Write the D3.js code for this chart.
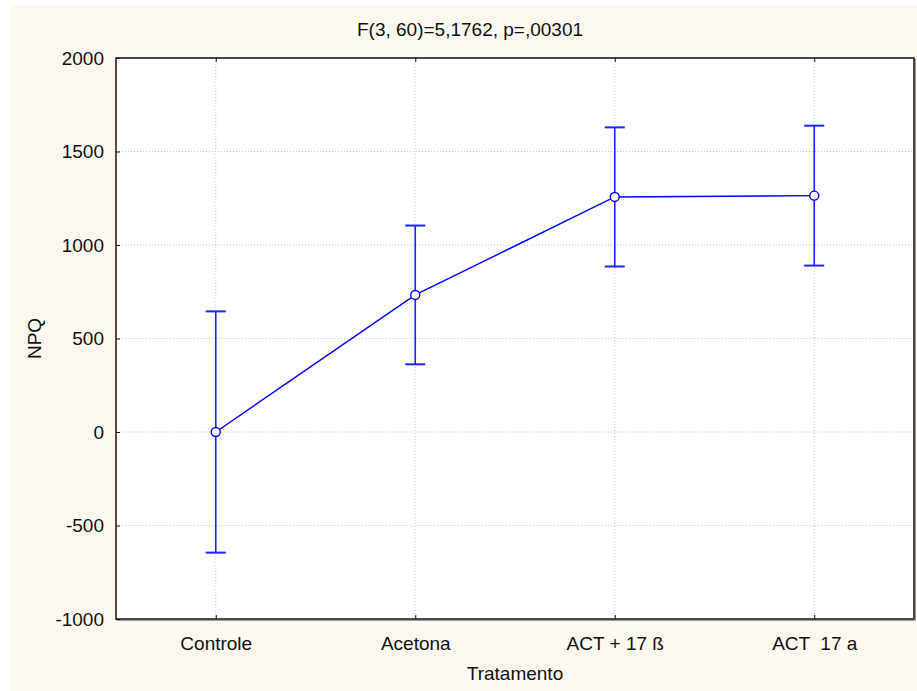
<!DOCTYPE html>
<html>
<head>
<meta charset="utf-8">
<script src="https://cdn.jsdelivr.net/npm/d3@7"></script>
<style>
  body { margin: 0; background: #fff; }
  svg text { font-family: "Liberation Sans", Arial, sans-serif; fill: #111; white-space: pre; }
</style>
</head>
<body>
<svg id="chart"></svg>
<script>
// Data
const categories = ["Controle", "Acetona", "ACT + 17 ß", "ACT  17 a"];
const means = [0, 733, 1257, 1264];
const upper = [645, 1104, 1629, 1638];
const lower = [-645, 362, 885, 890];
const yTicks = [-1000, -500, 0, 500, 1000, 1500, 2000];

const W = 917, H = 691;
const margin = { top: 58, right: 3, bottom: 72, left: 116 };
const width = W - margin.left - margin.right;
const height = H - margin.top - margin.bottom;

const svg = d3.select("#chart").attr("width", W).attr("height", H);

// cream page background
svg.append("rect")
  .attr("x", 10).attr("y", 5)
  .attr("width", W - 10).attr("height", H - 5)
  .attr("fill", "#fdf9f0");

const g = svg.append("g").attr("transform", `translate(${margin.left},${margin.top})`);

g.append("rect")
  .attr("width", width).attr("height", height)
  .attr("fill", "#fff");

const x = d3.scalePoint().domain(categories).range([0, width]).padding(0.5);
const y = d3.scaleLinear().domain([-1000, 2000]).range([height, 0]);

// dotted grid
g.selectAll(".hgrid")
  .data(yTicks.slice(1, -1))
  .enter().append("line")
  .attr("x1", 0).attr("x2", width)
  .attr("y1", d => y(d)).attr("y2", d => y(d))
  .attr("stroke", "#c8c8c8").attr("stroke-width", 1)
  .attr("stroke-dasharray", "1,2");

g.selectAll(".vgrid")
  .data(categories)
  .enter().append("line")
  .attr("x1", d => x(d)).attr("x2", d => x(d))
  .attr("y1", 0).attr("y2", height)
  .attr("stroke", "#c8c8c8").attr("stroke-width", 1)
  .attr("stroke-dasharray", "1,2");

// axes with inward ticks
const yAxis = g.append("g")
  .call(d3.axisLeft(y).tickValues(yTicks).tickSize(-4).tickPadding(12).tickFormat(d => String(d)));
const xAxisB = g.append("g")
  .attr("transform", `translate(0,${height})`)
  .call(d3.axisBottom(x).tickSize(-4).tickPadding(18));
const xAxisT = g.append("g")
  .call(d3.axisTop(x).tickSize(-4).tickFormat(""));

[yAxis, xAxisB, xAxisT].forEach(a => {
  a.select(".domain").remove();
  a.selectAll(".tick line").attr("stroke", "#111").attr("stroke-width", 1);
  a.selectAll("text")
    .style("font-family", "'Liberation Sans', Arial, sans-serif")
    .style("font-size", "19px")
    .style("white-space", "pre")
    .attr("fill", "#111");
});

// frame with a faint shadow on the right/bottom
g.append("path")
  .attr("d", `M${width + 1.5},1 V${height + 1.5} H1`)
  .attr("fill", "none").attr("stroke", "#999").attr("stroke-width", 1);
g.append("rect")
  .attr("width", width).attr("height", height)
  .attr("fill", "none").attr("stroke", "#111").attr("stroke-width", 1.5);

// error bars
const capW = 10;
const bars = g.selectAll(".err")
  .data(categories)
  .enter().append("g").attr("class", "err");

bars.append("line")
  .attr("x1", d => x(d)).attr("x2", d => x(d))
  .attr("y1", (d, i) => y(upper[i])).attr("y2", (d, i) => y(lower[i]))
  .attr("stroke", "#1f1fff").attr("stroke-width", 1.6);
bars.append("line")
  .attr("x1", d => x(d) - capW).attr("x2", d => x(d) + capW)
  .attr("y1", (d, i) => y(upper[i])).attr("y2", (d, i) => y(upper[i]))
  .attr("stroke", "#1f1fff").attr("stroke-width", 2);
bars.append("line")
  .attr("x1", d => x(d) - capW).attr("x2", d => x(d) + capW)
  .attr("y1", (d, i) => y(lower[i])).attr("y2", (d, i) => y(lower[i]))
  .attr("stroke", "#1f1fff").attr("stroke-width", 2);

// mean line
const line = d3.line()
  .x((d, i) => x(categories[i]))
  .y(d => y(d));

g.append("path")
  .datum(means)
  .attr("d", line)
  .attr("fill", "none")
  .attr("stroke", "#0000ff")
  .attr("stroke-width", 1.4);

g.selectAll(".pt")
  .data(means)
  .enter().append("circle")
  .attr("cx", (d, i) => x(categories[i]))
  .attr("cy", d => y(d))
  .attr("r", 4.5)
  .attr("fill", "#fff")
  .attr("stroke", "#0000ff")
  .attr("stroke-width", 1.4);

// titles
svg.append("text")
  .attr("x", 470)
  .attr("y", 36)
  .attr("text-anchor", "middle")
  .style("font-size", "19px")
  .text("F(3, 60)=5,1762, p=,00301");

svg.append("text")
  .attr("x", margin.left + width / 2)
  .attr("y", 680)
  .attr("text-anchor", "middle")
  .style("font-size", "19px")
  .text("Tratamento");

svg.append("text")
  .attr("transform", `translate(41,${margin.top + height / 2}) rotate(-90)`)
  .attr("text-anchor", "middle")
  .style("font-size", "19px")
  .text("NPQ");
</script>
</body>
</html>
